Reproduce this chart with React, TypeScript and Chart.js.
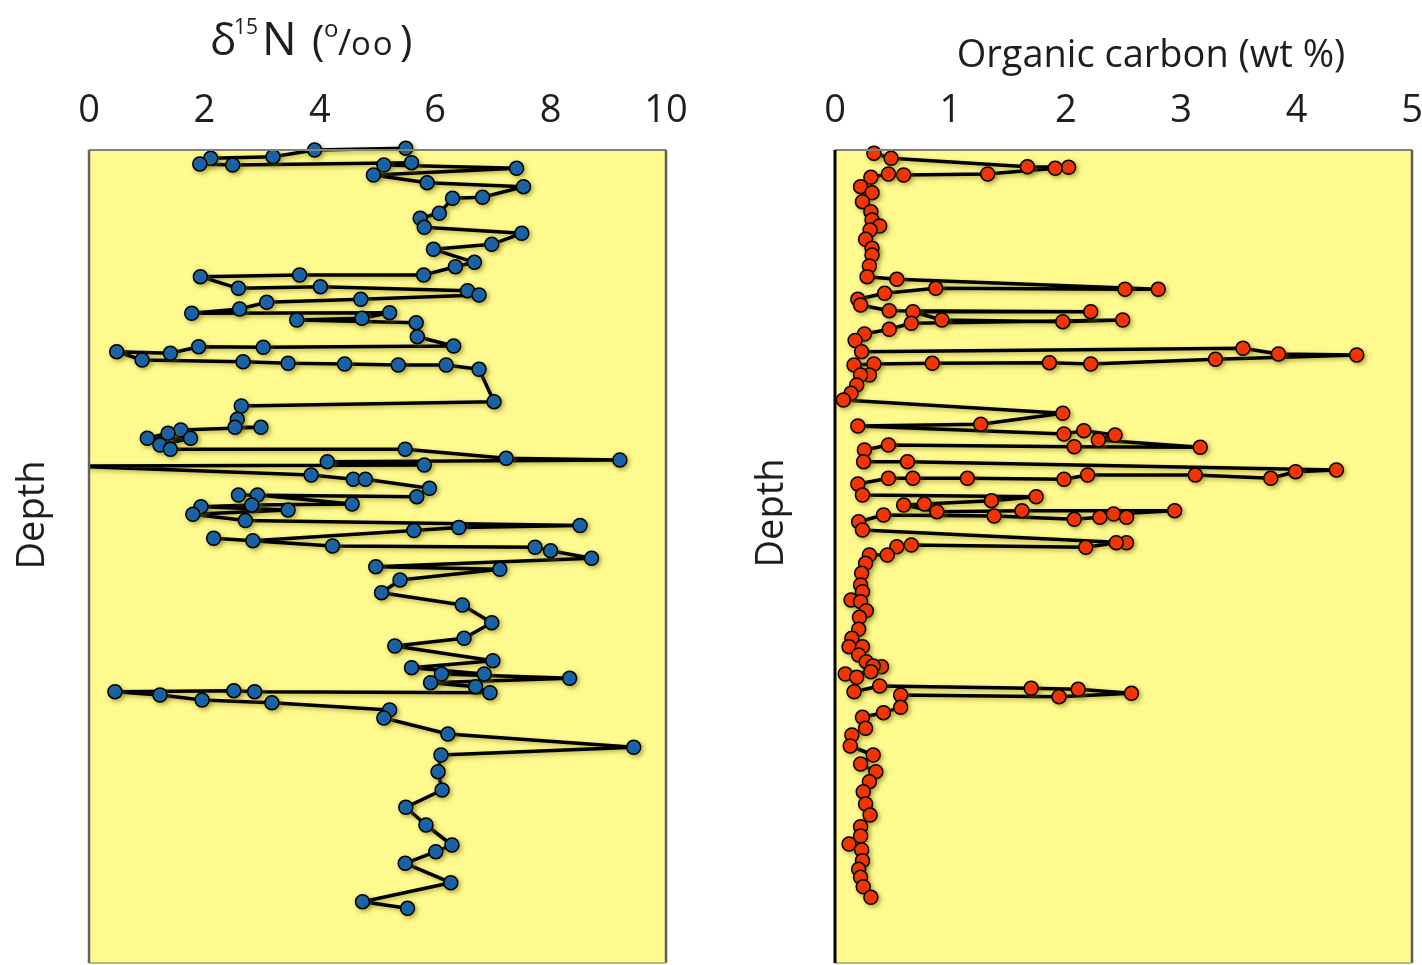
import React, { useEffect, useRef } from "react";
import { Chart, registerables } from "chart.js";

Chart.register(...registerables);

// ---------------- data ----------------
// depth units: arbitrary (tenths of the original panel height scale)
const depthRange = [0, 81.3];

const d15nTicks = [0, 2, 4, 6, 8, 10];
const carbonTicks = [0, 1, 2, 3, 4, 5];

const d15nValues = [
  5.49, 3.91, 3.19, 2.11, 1.92, 2.49, 5.59, 5.11, 7.41, 4.93,
  5.86, 7.53, 6.82, 6.30, 6.07, 5.74, 5.81, 7.50, 6.98, 5.97,
  6.68, 6.35, 5.80, 3.65, 1.93, 2.59, 4.01, 6.56, 6.76, 4.71,
  3.08, 2.61, 1.78, 5.21, 4.73, 3.60, 5.67, 5.69, 6.32, 3.02,
  1.90, 1.41, 0.48, 0.92, 2.67, 3.45, 4.43, 5.36, 6.19, 6.76,
  7.02, 2.64, 2.57, 2.53, 2.98, 1.59, 1.37, 1.01, 1.76, 1.23,
  1.41, 5.48, 7.23, 9.20, 4.13, 5.81, -0.40, 3.85, 4.58, 4.79,
  5.90, 5.68, 2.59, 2.92, 4.56, 2.82, 1.94, 3.45, 1.80, 2.71,
  8.51, 6.41, 5.63, 2.84, 2.16, 4.22, 7.73, 8.00, 8.71, 4.97,
  7.12, 5.39, 5.07, 6.47, 6.98, 6.50, 5.30, 7.00, 5.59, 6.85,
  6.11, 8.33, 5.92, 6.70, 6.95, 2.87, 2.51, 0.45, 1.23, 1.96,
  3.17, 5.21, 5.11, 6.22, 9.44, 6.10, 6.05, 6.12, 5.49, 5.84,
  6.29, 6.01, 5.48, 6.27, 4.74, 5.52,
];
const d15nDepths = [
  -0.17, 0.0, 0.67, 0.83, 1.4, 1.5, 1.27, 1.5, 1.83, 2.5,
  3.27, 3.67, 4.73, 4.83, 6.33, 6.83, 7.73, 8.33, 9.43, 9.93,
  11.23, 11.67, 12.5, 12.5, 12.67, 13.83, 13.67, 14.07, 14.5, 14.93,
  15.23, 15.9, 16.33, 16.27, 16.83, 17.0, 17.27, 18.67, 19.6, 19.73,
  19.67, 20.33, 20.17, 21.0, 21.17, 21.33, 21.4, 21.5, 21.5, 21.93,
  25.17, 25.6, 26.93, 27.73, 27.73, 28.0, 28.33, 28.83, 28.83, 29.5,
  29.93, 29.93, 30.83, 31.0, 31.17, 31.5, 31.6, 32.5, 32.93, 32.93,
  33.83, 34.67, 34.5, 34.5, 35.4, 35.5, 35.67, 36.0, 36.43, 37.05,
  37.55, 37.75, 38.05, 39.07, 38.83, 39.6, 39.73, 40.07, 40.83, 41.67,
  41.93, 43.0, 44.27, 45.5, 47.27, 48.83, 49.6, 51.07, 51.77, 52.4,
  52.4, 52.83, 53.27, 53.67, 54.27, 54.17, 54.07, 54.17, 54.5, 55.0,
  55.27, 56.0, 56.8, 58.4, 59.73, 60.5, 62.17, 64.0, 65.73, 67.5,
  69.5, 70.17, 71.33, 73.27, 75.17, 75.83,
];

const carbonValues = [
  0.337, 0.486, 1.667, 2.024, 1.908, 1.323, 0.595, 0.463, 0.311, 0.222,
  0.321, 0.238, 0.311, 0.321, 0.387, 0.304, 0.265, 0.321, 0.321, 0.298,
  0.278, 0.536, 2.801, 2.513, 0.873, 0.430, 0.198, 0.222, 0.470, 2.216,
  0.675, 0.926, 1.974, 2.493, 0.661, 0.470, 0.255, 0.175, 0.231, 3.535,
  3.843, 4.521, 3.297, 2.216, 1.858, 0.843, 0.337, 0.165, 0.298, 0.222,
  0.188, 0.139, 0.073, 1.974, 1.263, 0.198, 1.984, 2.156, 2.427, 2.282,
  3.165, 2.073, 0.463, 0.255, 0.248, 0.628, 4.345, 3.991, 3.776, 3.122,
  2.189, 1.984, 1.147, 0.675, 0.463, 0.198, 0.238, 1.743, 1.356, 0.774,
  0.595, 0.883, 1.620, 2.943, 2.414, 2.526, 2.295, 2.073, 1.379, 0.420,
  0.205, 0.238, 2.526, 2.437, 2.173, 0.661, 0.536, 0.453, 0.298, 0.265,
  0.231, 0.222, 0.238, 0.139, 0.222, 0.271, 0.212, 0.205, 0.146, 0.122,
  0.238, 0.205, 0.271, 0.403, 0.331, 0.311, 0.089, 0.188, 0.165, 0.387,
  1.700, 2.107, 2.569, 1.941, 0.569, 0.569, 0.420, 0.238, 0.265, 0.146,
  0.132, 0.331, 0.222, 0.354, 0.298, 0.245, 0.265, 0.304, 0.222, 0.222,
  0.122, 0.231, 0.238, 0.205, 0.222, 0.245, 0.311,
];
const carbonDepths = [
  0.33, 0.83, 1.67, 1.73, 1.83, 2.4, 2.5, 2.4, 2.73, 3.67,
  4.27, 5.17, 6.17, 7.0, 7.6, 8.0, 8.93, 9.83, 10.5, 11.6,
  12.67, 12.93, 13.93, 13.93, 13.83, 14.33, 14.93, 15.5, 16.07, 16.17,
  16.17, 17.0, 17.17, 17.0, 17.33, 17.93, 18.4, 19.05, 20.17, 19.83,
  20.4, 20.5, 20.93, 21.4, 21.27, 21.33, 21.4, 21.5, 22.5, 22.5,
  23.5, 24.33, 25.0, 26.33, 27.43, 27.6, 28.4, 28.07, 28.5, 29.0,
  29.73, 29.67, 29.5, 30.0, 31.17, 31.17, 32.0, 32.17, 32.83, 32.5,
  32.5, 32.93, 32.83, 32.83, 32.83, 33.4, 34.5, 34.67, 35.07, 35.4,
  35.5, 36.17, 36.07, 36.07, 36.4, 36.73, 36.73, 36.93, 36.6, 36.5,
  37.17, 38.0, 39.27, 39.27, 39.73, 39.5, 39.67, 40.5, 40.5, 41.33,
  42.33, 43.5, 44.17, 45.0, 45.17, 46.07, 46.73, 47.93, 48.83, 49.67,
  49.67, 50.5, 51.17, 51.67, 51.6, 52.17, 52.4, 52.73, 54.17, 53.6,
  53.83, 53.93, 54.33, 54.67, 54.5, 55.73, 56.27, 56.73, 57.83, 58.5,
  59.6, 60.5, 61.4, 62.17, 63.17, 64.17, 65.4, 66.5, 67.67, 68.6,
  69.4, 70.0, 71.07, 71.93, 72.73, 73.67, 74.73,
];

// ---------------- styling ----------------
const FONT = '"Open Sans", "Noto Sans", "DejaVu Sans", sans-serif';
const TEXT = "#1e1e1e";
const PANEL_FILL = "rgb(255,250,142)";
const CANVAS_W = 711;
const CANVAS_H = 965;

type PanelCfg = {
  leftBorder: string;
  leftBorderWidth: number;
  depthLabelX: number;
  depthLabelY: number;
  drawTitle: (ctx: CanvasRenderingContext2D) => void;
};

function makePanelPlugin(cfg: PanelCfg) {
  return {
    id: "panelDeco",
    beforeDraw(chart: any) {
      const { ctx, chartArea: a } = chart;
      ctx.save();
      ctx.fillStyle = PANEL_FILL;
      ctx.fillRect(a.left, a.top, a.right - a.left, a.bottom - a.top);
      ctx.restore();
    },
    beforeDatasetDraw(chart: any) {
      const ctx = chart.ctx;
      ctx.save();
      ctx.shadowColor = "rgba(120,110,20,0.5)";
      ctx.shadowBlur = 4;
      ctx.shadowOffsetX = 2;
      ctx.shadowOffsetY = 2;
    },
    afterDatasetDraw(chart: any) {
      chart.ctx.restore();
    },
    afterDatasetsDraw(chart: any) {
      const { ctx, chartArea: a } = chart;
      ctx.save();
      // top
      ctx.strokeStyle = "rgb(130,130,118)";
      ctx.lineWidth = 2;
      ctx.beginPath();
      ctx.moveTo(a.left, a.top);
      ctx.lineTo(a.right, a.top);
      ctx.stroke();
      // right
      ctx.strokeStyle = "rgb(95,95,90)";
      ctx.lineWidth = 2.5;
      ctx.beginPath();
      ctx.moveTo(a.right, a.top);
      ctx.lineTo(a.right, a.bottom);
      ctx.stroke();
      // bottom
      ctx.strokeStyle = "rgb(190,184,110)";
      ctx.lineWidth = 2;
      ctx.beginPath();
      ctx.moveTo(a.left, a.bottom);
      ctx.lineTo(a.right, a.bottom);
      ctx.stroke();
      // left
      ctx.strokeStyle = cfg.leftBorder;
      ctx.lineWidth = cfg.leftBorderWidth;
      ctx.beginPath();
      ctx.moveTo(a.left, a.top);
      ctx.lineTo(a.left, a.bottom);
      ctx.stroke();
      ctx.restore();
    },
    afterDraw(chart: any) {
      const ctx = chart.ctx as CanvasRenderingContext2D;
      ctx.save();
      ctx.fillStyle = TEXT;
      // Depth label
      ctx.save();
      ctx.translate(cfg.depthLabelX, cfg.depthLabelY);
      ctx.rotate(-Math.PI / 2);
      ctx.font = `38px ${FONT}`;
      ctx.textAlign = "center";
      ctx.textBaseline = "middle";
      ctx.fillText("Depth", 0, 0);
      ctx.restore();
      cfg.drawTitle(ctx);
      ctx.restore();
    },
  };
}

function drawD15nTitle(ctx: CanvasRenderingContext2D) {
  ctx.textAlign = "left";
  ctx.textBaseline = "alphabetic";
  const piece = (t: string, size: number, x: number, y: number, spacing = 0) => {
    ctx.font = `${size}px ${FONT}`;
    (ctx as any).letterSpacing = `${spacing}px`;
    ctx.fillText(t, x, y);
    (ctx as any).letterSpacing = "0px";
  };
  piece("δ", 44, 210, 55);
  piece("15", 21, 234, 34);
  piece("N", 46, 262, 55);
  piece("(", 42, 312, 55);
  piece("o", 24, 324, 37);
  piece("/", 36, 338, 55);
  piece("oo", 33, 351, 55, 2);
  piece(")", 42, 400, 55);
}

function drawCarbonTitle(ctx: CanvasRenderingContext2D) {
  ctx.textAlign = "center";
  ctx.textBaseline = "alphabetic";
  ctx.font = `38px ${FONT}`;
  ctx.fillText("Organic carbon (wt %)", 440, 67);
}

function buildConfig(
  values: number[],
  depths: number[],
  ticks: number[],
  xMax: number,
  pointColor: string,
  padding: { left: number; right: number },
  plugin: any
): any {
  const points = values.map((v, i) => ({ x: v, y: depths[i] }));
  return {
    type: "scatter",
    data: {
      datasets: [
        {
          data: points,
          showLine: true,
          borderColor: "#000000",
          borderWidth: 3.5,
          borderJoinStyle: "round",
          tension: 0,
          pointRadius: 7,
          pointHoverRadius: 7,
          pointBackgroundColor: pointColor,
          pointBorderColor: "#000000",
          pointBorderWidth: 1.5,
          clip: { left: 0, top: 10, right: 10, bottom: 0 },
        },
      ],
    },
    options: {
      responsive: false,
      animation: false,
      events: [],
      layout: { autoPadding: false, padding: { left: padding.left, right: padding.right, top: 0, bottom: 2 } },
      plugins: {
        legend: { display: false },
        tooltip: { enabled: false },
        title: { display: false },
      },
      scales: {
        x: {
          type: "linear",
          position: "top",
          min: 0,
          max: xMax,
          grid: { display: false, drawTicks: false },
          border: { display: false },
          afterBuildTicks: (s: any) => {
            s.ticks = ticks.map((v) => ({ value: v }));
          },
          afterFit: (s: any) => {
            s.height = 150;
            s.paddingLeft = 0;
            s.paddingRight = 0;
          },
          ticks: {
            color: TEXT,
            font: { family: FONT, size: 38 },
            padding: 16,
            maxRotation: 0,
            autoSkip: false,
          },
        },
        y: {
          type: "linear",
          display: false,
          reverse: true,
          min: depthRange[0],
          max: depthRange[1],
        },
      },
    },
    plugins: [plugin],
  };
}

function Panel(props: { make: () => any; left: number }) {
  const ref = useRef<HTMLCanvasElement | null>(null);
  useEffect(() => {
    if (!ref.current) return;
    const chart = new Chart(ref.current, props.make());
    return () => chart.destroy();
  }, []);
  return (
    <canvas
      ref={ref}
      width={CANVAS_W}
      height={CANVAS_H}
      style={{ position: "absolute", left: props.left, top: 0, width: CANVAS_W, height: CANVAS_H, display: "block" }}
    />
  );
}

export default function App() {
  const makeLeft = () =>
    buildConfig(
      d15nValues,
      d15nDepths,
      d15nTicks,
      10,
      "rgb(18,98,178)",
      { left: 89, right: CANVAS_W - 666 },
      makePanelPlugin({
        leftBorder: "rgb(100,100,100)",
        leftBorderWidth: 2.5,
        depthLabelX: 33,
        depthLabelY: 515,
        drawTitle: drawD15nTitle,
      })
    );
  const makeRight = () =>
    buildConfig(
      carbonValues,
      carbonDepths,
      carbonTicks,
      5,
      "rgb(255,48,0)",
      { left: 835 - 711, right: CANVAS_W - (1412 - 711) },
      makePanelPlugin({
        leftBorder: "#000000",
        leftBorderWidth: 3,
        depthLabelX: 772 - 711,
        depthLabelY: 513,
        drawTitle: drawCarbonTitle,
      })
    );
  return (
    <div style={{ position: "absolute", left: 0, top: 0, width: 1422, height: 965, background: "#ffffff", overflow: "hidden" }}>
      <Panel make={makeLeft} left={0} />
      <Panel make={makeRight} left={711} />
    </div>
  );
}
